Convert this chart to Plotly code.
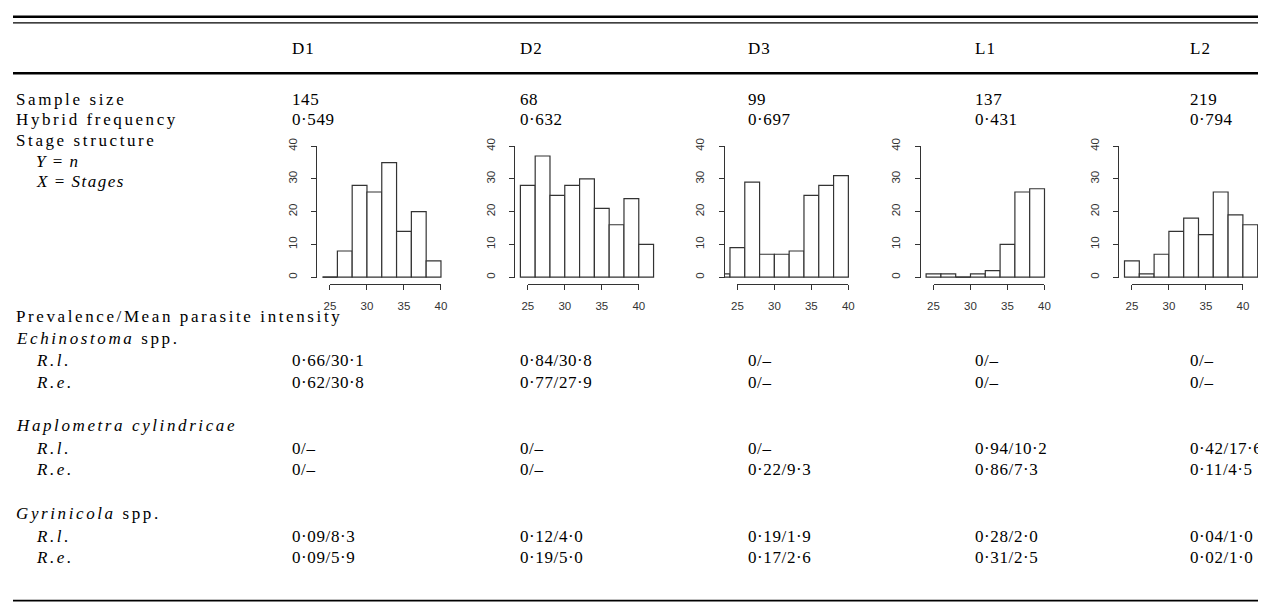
import plotly.graph_objects as go

# ---------------- data ----------------
columns = ["D1", "D2", "D3", "L1", "L2"]
sample_size = ["145", "68", "99", "137", "219"]
hybrid_freq = ["0·549", "0·632", "0·697", "0·431", "0·794"]

echin_rl = ["0·66/30·1", "0·84/30·8", "0/–", "0/–", "0/–"]
echin_re = ["0·62/30·8", "0·77/27·9", "0/–", "0/–", "0/–"]
hap_rl = ["0/–", "0/–", "0/–", "0·94/10·2", "0·42/17·6"]
hap_re = ["0/–", "0/–", "0·22/9·3", "0·86/7·3", "0·11/4·5"]
gyr_rl = ["0·09/8·3", "0·12/4·0", "0·19/1·9", "0·28/2·0", "0·04/1·0"]
gyr_re = ["0·09/5·9", "0·19/5·0", "0·17/2·6", "0·31/2·5", "0·02/1·0"]

# stage-structure histograms: left edge of each 2-stage bin and counts
hist_bin_left = [
    [24, 26, 28, 30, 32, 34, 36, 38],
    [24, 26, 28, 30, 32, 34, 36, 38, 40],
    [22, 24, 26, 28, 30, 32, 34, 36, 38],
    [24, 26, 28, 30, 32, 34, 36, 38],
    [24, 26, 28, 30, 32, 34, 36, 38, 40],
]
hist_counts = [
    [0, 8, 28, 26, 35, 14, 20, 5],
    [28, 37, 25, 28, 30, 21, 16, 24, 10],
    [1, 9, 29, 7, 7, 8, 25, 28, 31],
    [1, 1, 0, 1, 2, 10, 26, 27],
    [5, 1, 7, 14, 18, 13, 26, 19, 16],
]
bin_width = 2
x_ticks = [25, 30, 35, 40]
y_ticks = [0, 10, 20, 30, 40]

# ---------------- layout geometry (page pixels) ----------------
W, H = 1266, 603
OFF = 8  # default page margin of the html body


def px(x):
    return (x - OFF) / W


def py(y):
    return 1 - (y - OFF) / H


TPAD = 2  # inner padding of an annotation box
col_x = [289 - TPAD, 519 - TPAD, 749 - TPAD, 978 - TPAD, 1195 - TPAD]
label_x = 8
indent_x = 30 - TPAD
hist_x25 = [327.0, 526.7, 738.3, 936.3, 1136.6]
PXU = 7.47          # pixels per stage unit
hist_y0 = 272.7     # pixel row of count 0
PYU = 3.32          # pixels per count
xaxis_line_y = 279.3
XMIN, XMAX = 23.3, 42.2
YMIN, YMAX = -0.3, 40

serif = "Liberation Serif, Times New Roman, serif"
sans = "Liberation Sans, Arial, sans-serif"
TXT = "#000000"
HC = "#333333"
FS = 17


def sp(t, ls):
    return f'<span style="letter-spacing:{ls}px">{t}</span>'


fig = go.Figure()
layout = {}


def xname(n):
    return "x" if n == 1 else f"x{n}"


def yname(n):
    return "y" if n == 1 else f"y{n}"


def xkey(n):
    return "xaxis" if n == 1 else f"xaxis{n}"


def ykey(n):
    return "yaxis" if n == 1 else f"yaxis{n}"


tickfont = dict(family=sans, size=11.5, color=HC)

for i in range(5):
    n = i + 1
    m = i + 6
    x25 = hist_x25[i]
    xl = x25 + (XMIN - 25) * PXU
    xr = x25 + (XMAX - 25) * PXU
    yt = hist_y0 - YMAX * PYU
    yb = hist_y0 - YMIN * PYU

    fig.add_trace(go.Bar(
        x=hist_bin_left[i], y=hist_counts[i], offset=0, width=bin_width,
        marker=dict(color="white", line=dict(color=HC, width=1.2)),
        xaxis=xname(n), yaxis=yname(n), hoverinfo="skip", showlegend=False,
    ))
    # empty bins are drawn by R as flat outlines on the zero line
    zx, zy = [], []
    for left, c in zip(hist_bin_left[i], hist_counts[i]):
        if c == 0:
            zx += [left, left + bin_width, None]
            zy += [0, 0, None]
    if zx:
        fig.add_trace(go.Scatter(
            x=zx, y=zy, mode="lines", line=dict(color=HC, width=1.2),
            xaxis=xname(n), yaxis=yname(n), hoverinfo="skip", showlegend=False,
        ))
    # carrier trace for the separate R-style stage axis
    fig.add_trace(go.Scatter(
        x=[x_ticks[0], x_ticks[-1]], y=[0, 0], mode="markers",
        marker=dict(opacity=0, size=1),
        xaxis=xname(m), yaxis=yname(n), hoverinfo="skip", showlegend=False,
    ))

    layout[xkey(n)] = dict(
        domain=[px(xl), px(xr)], range=[XMIN, XMAX], anchor=yname(n),
        showline=False, showticklabels=False, ticks="", showgrid=False,
        zeroline=False, fixedrange=True,
    )
    layout[ykey(n)] = dict(
        domain=[py(yb), py(yt)], range=[YMIN, YMAX], anchor=xname(n),
        showline=True, linecolor=HC, linewidth=1, ticks="outside", ticklen=5,
        tickcolor=HC, tickwidth=1, tickvals=y_ticks,
        ticktext=[str(v) for v in y_ticks], tickangle=-90, tickfont=tickfont,
        ticklabelstandoff=10, showgrid=False, zeroline=False, fixedrange=True,
    )
    layout[xkey(m)] = dict(
        domain=[px(x25), px(x25 + (x_ticks[-1] - x_ticks[0]) * PXU)],
        range=[x_ticks[0], x_ticks[-1]], anchor="free",
        position=py(xaxis_line_y), showline=True, linecolor=HC, linewidth=1,
        ticks="outside", ticklen=5, tickcolor=HC, tickwidth=1,
        tickvals=x_ticks, ticktext=[str(v) for v in x_ticks], tickfont=tickfont,
        ticklabelstandoff=6, showgrid=False, zeroline=False, fixedrange=True,
    )

# ---------------- table text ----------------
ann = []
LAB_LS = 2.6
NUM_LS = 0.6


def add(x, y, text, ls):
    ann.append(dict(
        x=px(x), y=py(y), xref="paper", yref="paper", text=sp(text, ls),
        xanchor="left", yanchor="middle", showarrow=False,
        font=dict(family=serif, size=FS, color=TXT),
    ))


header_y = 41
for j, c in enumerate(columns):
    add(col_x[j], header_y, c, 1)

rows_top = [
    (92.5, "Sample size", sample_size),
    (113, "Hybrid frequency", hybrid_freq),
]
for y, lab, vals in rows_top:
    add(label_x, y, lab, LAB_LS)
    for j, v in enumerate(vals):
        add(col_x[j], y, v, NUM_LS)

add(label_x, 134, "Stage structure", LAB_LS)
add(indent_x, 155, "<i>Y</i> = <i>n</i>", 1.5)
add(indent_x, 176, "<i>X</i> = <i>Stages</i>", 1.5)

add(label_x, 313, "Prevalence/Mean parasite intensity", LAB_LS)
groups = [
    (335, "<i>Echinostoma</i> spp.", [(357, echin_rl), (379, echin_re)]),
    (423, "<i>Haplometra cylindricae</i>", [(446, hap_rl), (468, hap_re)]),
    (512, "<i>Gyrinicola</i> spp.", [(535, gyr_rl), (557, gyr_re)]),
]
for gy, glab, sub in groups:
    add(label_x, gy, glab, LAB_LS)
    for (y, vals), lab in zip(sub, ["<i>R.l.</i>", "<i>R.e.</i>"]):
        add(indent_x, y, lab, LAB_LS)
        for j, v in enumerate(vals):
            add(col_x[j], y, v, NUM_LS)

# ---------------- table rules ----------------
shapes = []
for y, w in [(8.7, 2.5), (15, 1.1), (66, 2.5), (600.5, 1.6)]:
    shapes.append(dict(type="line", xref="paper", yref="paper",
                       x0=px(7), x1=px(1264), y0=py(y), y1=py(y),
                       line=dict(color="#000000", width=w)))

fig.update_layout(
    width=W, height=H, margin=dict(l=0, r=0, t=0, b=0),
    paper_bgcolor="white", plot_bgcolor="rgba(0,0,0,0)",
    annotations=ann, shapes=shapes, showlegend=False, **layout,
)

fig.write_html(
    "out.html",
    config={"displayModeBar": False, "staticPlot": True},
)
